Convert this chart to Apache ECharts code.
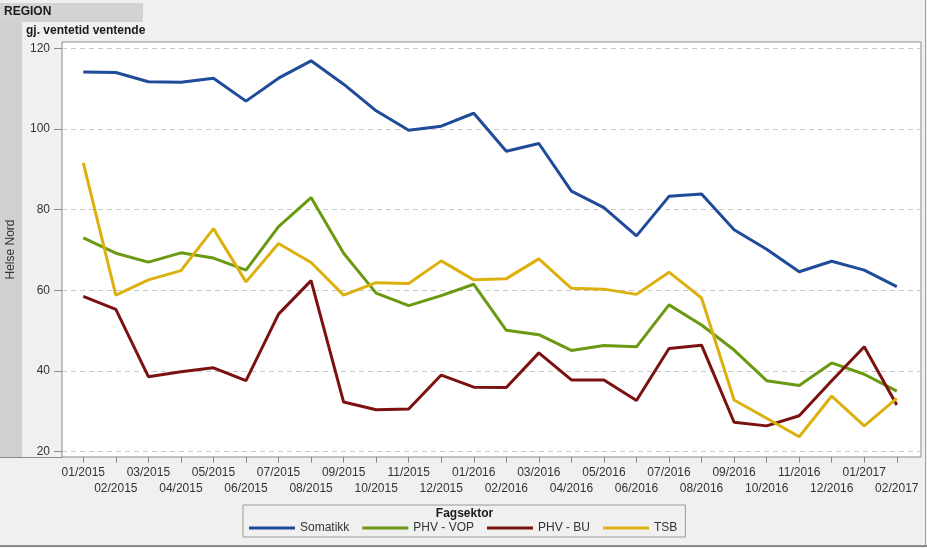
<!DOCTYPE html>
<html>
<head>
<meta charset="utf-8">
<script src="https://cdn.jsdelivr.net/npm/echarts@6/dist/echarts.min.js"></script>
<style>
html,body{margin:0;padding:0;background:#f0f0f0;}
#chart{width:927px;height:548px;}
</style>
</head>
<body>
<div id="chart"></div>
<script>
var categories = ['01/2015','02/2015','03/2015','04/2015','05/2015','06/2015','07/2015','08/2015','09/2015','10/2015','11/2015','12/2015',
  '01/2016','02/2016','03/2016','04/2016','05/2016','06/2016','07/2016','08/2016','09/2016','10/2016','11/2016','12/2016',
  '01/2017','02/2017'];
var somatikk = [114.1,114.0,111.7,111.6,112.6,106.9,112.6,116.9,111.1,104.5,99.7,100.7,103.9,94.5,96.4,84.6,80.5,73.5,83.3,83.9,75.0,70.2,64.6,67.2,65.0,60.9];
var phvVop = [73.0,69.2,67.0,69.3,68.0,65.0,75.8,83.0,69.2,59.3,56.2,58.7,61.5,50.1,49.0,45.1,46.3,46.0,56.4,51.4,45.2,37.6,36.4,42.0,39.2,35.0];
var phvBu = [58.5,55.3,38.6,39.8,40.8,37.6,54.1,62.4,32.3,30.4,30.6,39.0,36.0,35.9,44.5,37.8,37.8,32.7,45.6,46.4,27.3,26.4,28.9,37.6,46.0,31.6];
var tsb = [91.6,58.8,62.6,64.9,75.3,62.1,71.6,66.9,58.8,61.9,61.7,67.3,62.6,62.9,67.8,60.5,60.3,59.0,64.5,58.1,32.8,28.3,23.7,33.8,26.4,33.2];
var seriesNames = ['Somatikk','PHV - VOP','PHV - BU','TSB'];
var seriesColors = ['#1f4b99','#6a9a12','#7b1111','#dcb10f'];
var yTicks = {min:20, max:120, interval:20};

var FONT = "'Liberation Sans', Arial, sans-serif";
var chart = echarts.init(document.getElementById('chart'), null, {renderer:'canvas'});

var dataSets = [somatikk, phvVop, phvBu, tsb];
var series = dataSets.map(function(d, k){
  return {
    name: seriesNames[k], type:'line', xAxisIndex:2, yAxisIndex:2,
    data: d, symbol:'none', smooth:false,
    lineStyle:{color:seriesColors[k], width:3},
    itemStyle:{color:seriesColors[k]}
  };
});

var option = {
  backgroundColor:'#f0f0f0',
  animation:false,
  textStyle:{fontFamily:FONT},
  grid:[
    {left:62, top:42, width:859, height:415, show:true, backgroundColor:'#ffffff', borderColor:'#8a8a8a', borderWidth:1},
    {left:62, right:6, top:48.3, bottom:96.3},
    {left:83.3, right:30.2, top:48.3, bottom:96.3}
  ],
  xAxis:[
    {gridIndex:0, type:'value', show:false},
    {gridIndex:1, type:'value', show:false},
    {gridIndex:2, type:'category', data:categories, boundaryGap:false, position:'bottom', offset:5,
      axisLine:{show:false},
      axisTick:{show:true, length:6, lineStyle:{color:'#8a8a8a'}},
      axisLabel:{interval:0, hideOverlap:false, margin:8, lineHeight:16, fontSize:12, color:'#333', fontFamily:FONT,
        formatter:function(v, i){ return (i % 2) ? '\n' + v : v; }},
      splitLine:{show:false}}
  ],
  yAxis:[
    {gridIndex:0, type:'value', show:false},
    {gridIndex:1, type:'value', min:yTicks.min, max:yTicks.max, interval:yTicks.interval,
      axisLine:{show:false},
      axisTick:{show:true, length:8, lineStyle:{color:'#8a8a8a'}},
      axisLabel:{margin:12, fontSize:12, color:'#333', fontFamily:FONT},
      splitLine:{show:true, lineStyle:{color:'#c8c8c8', type:[5,4], width:1}}},
    {gridIndex:2, type:'value', min:yTicks.min, max:yTicks.max, show:false, splitLine:{show:false}}
  ],
  legend:{
    left:243, top:505, orient:'horizontal',
    data:seriesNames,
    icon:'rect', itemWidth:46, itemHeight:3, itemGap:13,
    padding:[17,8,3,6],
    borderColor:'#9a9a9a', borderWidth:1, backgroundColor:'#f0f0f0',
    textStyle:{fontSize:12, color:'#333', fontFamily:FONT},
    selectedMode:false
  },
  graphic:[
    {type:'rect', left:0, top:3, shape:{width:143, height:19}, style:{fill:'#d3d3d3'}, silent:true},
    {type:'text', left:4, top:6, style:{text:'REGION', font:'bold 12px ' + FONT, fill:'#1a1a1a'}},
    {type:'text', left:26, top:25, style:{text:'gj. ventetid ventende', font:'bold 12px ' + FONT, fill:'#1a1a1a'}},
    {type:'rect', left:0, top:22, shape:{width:22, height:435}, style:{fill:'#d0d0d0'}, silent:true},
    {type:'line', shape:{x1:0, y1:457.5, x2:62, y2:457.5}, style:{stroke:'#8a8a8a', lineWidth:1}, silent:true},
    {type:'text', x:11, y:249.5, rotation:Math.PI/2, style:{text:'Helse Nord', font:'12px ' + FONT, fill:'#333', align:'center', verticalAlign:'middle'}},
    {type:'line', shape:{x1:925.5, y1:0, x2:925.5, y2:546}, style:{stroke:'#a0a0a0', lineWidth:1}, silent:true},
    {type:'line', shape:{x1:0, y1:546, x2:927, y2:546}, style:{stroke:'#8a8a8a', lineWidth:2}, silent:true},
    {type:'text', x:464.5, y:514, style:{text:'Fagsektor', font:'bold 12px ' + FONT, fill:'#1a1a1a', align:'center', verticalAlign:'middle'}, z:100}
  ],
  series: series
};
chart.setOption(option);
</script>
</body>
</html>
